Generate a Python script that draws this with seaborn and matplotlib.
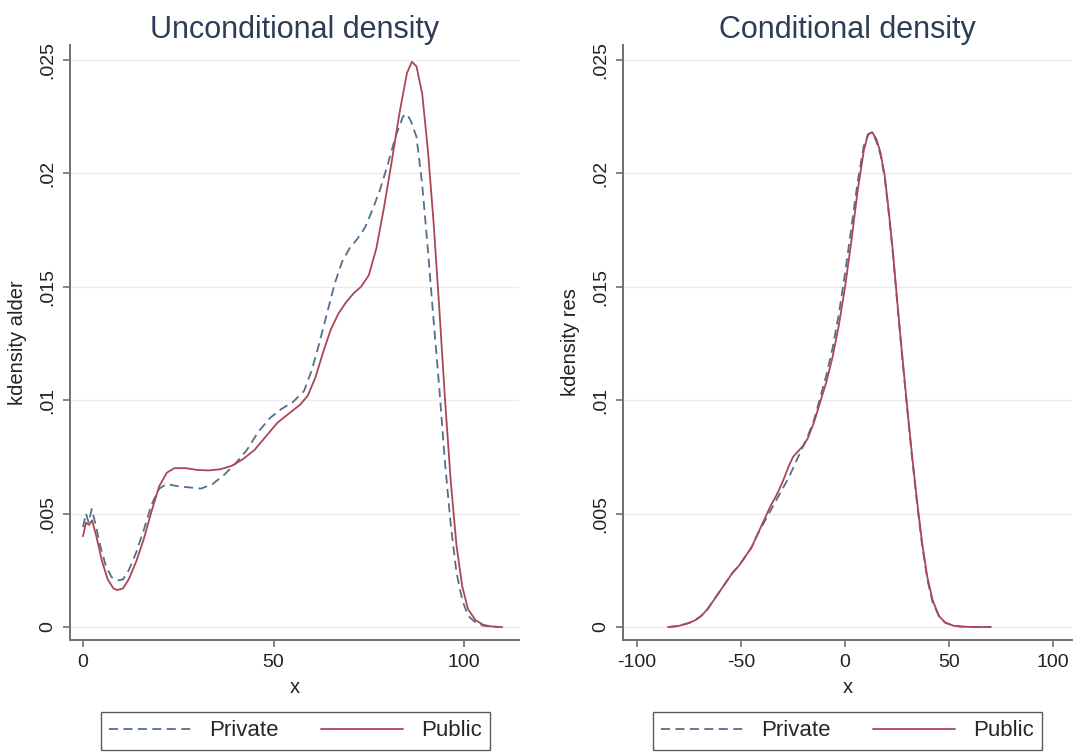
import numpy as np
import pandas as pd
import matplotlib
matplotlib.use("Agg")
import matplotlib.pyplot as plt
from matplotlib.lines import Line2D
import seaborn as sns

# ---------------- data ----------------
uncond_private_x = [0, 0.8, 1.5, 2.3, 3.2, 4.5, 6, 7.5, 9, 10.5, 12, 14, 16, 18, 20, 22, 25, 28, 31,
                    34, 37, 40, 43, 46, 49, 52, 55, 58, 60, 62, 64, 66, 68, 70, 72, 74, 76, 78, 80,
                    82, 84, 85, 86, 87.5, 89, 90.5, 92, 93.5, 95, 96.5, 98, 99.5, 101, 103, 105, 107, 109]
uncond_private_y = [0.0044, 0.0050, 0.0046, 0.0052, 0.0046, 0.0036, 0.0027, 0.0022, 0.00205, 0.0021,
                    0.0025, 0.0033, 0.0043, 0.0054, 0.0061, 0.0063, 0.0062, 0.00615, 0.0061, 0.0063,
                    0.0067, 0.0072, 0.0078, 0.0086, 0.0092, 0.0096, 0.0099, 0.0104, 0.0113, 0.0125,
                    0.0138, 0.0151, 0.0161, 0.0167, 0.0171, 0.0176, 0.0184, 0.0193, 0.0204, 0.0216,
                    0.0225, 0.0226, 0.0223, 0.0216, 0.0195, 0.0166, 0.0135, 0.0105, 0.0072, 0.0045,
                    0.0024, 0.0012, 0.0005, 0.0002, 0.00006, 0.00002, 0.0]

uncond_public_x = [0, 0.8, 1.6, 2.4, 3.5, 5, 6.5, 8, 9, 10.5, 12, 14, 16, 18, 20, 22, 24, 27, 30, 33,
                   36, 39, 42, 45, 48, 51, 54, 57, 59, 61, 63, 65, 67, 69, 71, 73, 75, 77, 79, 81, 83,
                   85, 86.3, 87.5, 89, 90.5, 92, 93.5, 95, 96.5, 98, 99.5, 101, 103, 105, 107, 110]
uncond_public_y = [0.0040, 0.0046, 0.0045, 0.0047, 0.0040, 0.0029, 0.0021, 0.0017, 0.00163, 0.0017,
                   0.0021, 0.0029, 0.0039, 0.0051, 0.0062, 0.0068, 0.0070, 0.0070, 0.00692, 0.0069,
                   0.00695, 0.0071, 0.0074, 0.0078, 0.0084, 0.0090, 0.0094, 0.0098, 0.0102, 0.0110,
                   0.0121, 0.0131, 0.0138, 0.0143, 0.0147, 0.0150, 0.0155, 0.0167, 0.0185, 0.0205,
                   0.0226, 0.0244, 0.0249, 0.0247, 0.0235, 0.0210, 0.0178, 0.0140, 0.0100, 0.0064,
                   0.0036, 0.0018, 0.0008, 0.0003, 0.0001, 0.00003, 0.0]

cond_public_x = [-85, -80, -75, -72, -69, -66, -63, -60, -57, -54, -51, -48, -45, -42, -39, -36, -33,
                 -30, -27, -25, -23, -20, -18, -15, -12, -9, -6, -3, 0, 3, 6, 9, 11, 13, 15, 17, 19,
                 21, 23, 25, 27, 29.5, 32, 34.5, 37, 39.5, 42, 45, 48, 52, 56, 62, 70]
cond_public_y = [0.0, 0.00005, 0.00018, 0.0003, 0.0005, 0.0008, 0.0012, 0.0016, 0.0020, 0.0024,
                 0.0027, 0.0031, 0.0035, 0.0041, 0.0047, 0.0053, 0.0058, 0.0064, 0.0071, 0.0075,
                 0.0077, 0.0080, 0.0083, 0.0090, 0.0099, 0.0108, 0.0119, 0.0133, 0.0150, 0.0170,
                 0.0192, 0.0210, 0.0217, 0.0218, 0.0215, 0.0209, 0.0199, 0.0183, 0.0165, 0.0144,
                 0.0124, 0.0100, 0.0077, 0.0056, 0.0037, 0.0022, 0.0012, 0.0005, 0.0002, 0.00006,
                 0.00002, 0.0, 0.0]

cond_private_x = [-85, -80, -75, -72, -69, -66, -63, -60, -57, -54, -51, -48, -45, -42, -39, -36, -33,
                  -30, -27, -25, -23, -20, -18, -15, -12, -9, -6, -3, 0, 3, 6, 9, 11, 13, 15, 17, 19,
                  21, 23, 25, 27, 29.5, 32, 34.5, 37, 39.5, 42, 45, 48, 52, 56, 62, 70]
cond_private_y = [0.0, 0.00005, 0.00018, 0.0003, 0.0005, 0.0008, 0.0012, 0.0016, 0.0020, 0.0024,
                  0.0027, 0.0031, 0.0035, 0.0041, 0.0046, 0.0051, 0.0056, 0.0061, 0.0066, 0.0070,
                  0.0074, 0.0080, 0.0084, 0.0091, 0.0101, 0.0111, 0.0123, 0.0138, 0.0156, 0.0176,
                  0.0196, 0.0212, 0.0217, 0.0218, 0.0214, 0.0208, 0.0198, 0.0182, 0.0164, 0.0143,
                  0.0123, 0.0099, 0.0076, 0.0055, 0.0036, 0.0021, 0.0011, 0.0005, 0.0002, 0.00006,
                  0.00002, 0.0, 0.0]

groups = ["Private", "Public"]
titles = ["Unconditional density", "Conditional density"]
ylabels = ["kdensity alder", "kdensity res"]
xlabel = "x"
yticks = [0, 0.005, 0.01, 0.015, 0.02, 0.025]
ytick_labels = ["0", ".005", ".01", ".015", ".02", ".025"]
xticks_left = [0, 50, 100]
xticks_right = [-100, -50, 0, 50, 100]

# ---------------- style ----------------
sns.set_theme(style="white")
plt.rcParams["font.family"] = ["Liberation Sans", "DejaVu Sans"]

colors = {"Private": "#52708c", "Public": "#ab4655"}
dashes = {"Private": (5, 3), "Public": ""}
axis_col = "#707070"
title_col = "#2d3d56"

fig = plt.figure(figsize=(10.82, 7.52), dpi=100)
W, H = 1082, 752
ax1 = fig.add_axes([70 / W, 1 - 640 / H, 449 / W, 595 / H])
ax2 = fig.add_axes([623 / W, 1 - 640 / H, 449 / W, 595 / H])


def make_df(px, py, ux, uy):
    return pd.concat([
        pd.DataFrame({"x": px, "y": py, "group": "Private"}),
        pd.DataFrame({"x": ux, "y": uy, "group": "Public"}),
    ], ignore_index=True)


df1 = make_df(uncond_private_x, uncond_private_y, uncond_public_x, uncond_public_y)
df2 = make_df(cond_private_x, cond_private_y, cond_public_x, cond_public_y)

panels = [(ax1, df1, (-3.4, 114.4), xticks_left, 295.5),
          (ax2, df2, (-106.7, 109.0), xticks_right, 847.5)]

for i, (ax, df, xlim, xt, legx) in enumerate(panels):
    sns.lineplot(data=df, x="x", y="y", hue="group", style="group",
                 palette=colors, dashes=dashes, estimator=None, sort=False,
                 linewidth=1.3, legend=False, ax=ax, zorder=3)
    ax.set_xlim(*xlim)
    ax.set_ylim(-0.00057, 0.02564)
    ax.set_yticks(yticks)
    ax.set_yticklabels(ytick_labels, rotation=90, va="center", fontsize=14, color="#222222")
    ax.set_xticks(xt)
    ax.set_xticklabels([str(v) for v in xt], fontsize=14, color="#222222")
    for yv in yticks:
        ax.axhline(yv, color="#ececec", lw=1.0, zorder=1)
    for s in ["top", "right"]:
        ax.spines[s].set_visible(False)
    for s in ["left", "bottom"]:
        ax.spines[s].set_color(axis_col)
        ax.spines[s].set_linewidth(1.4)
    ax.tick_params(axis="both", which="major", direction="out", length=5, width=1.2,
                   color=axis_col, pad=5, left=True, bottom=True)
    ax.set_title(titles[i], fontsize=22, color=title_col, pad=5)
    ax.set_xlabel(xlabel, fontsize=14.5, color="#222222", labelpad=5)
    ax.set_ylabel(ylabels[i], fontsize=14.5, color="#222222", labelpad=9)
    ax.set_facecolor("white")

    handles = [Line2D([0], [0], color=colors["Private"], lw=1.3, dashes=(5, 3)),
               Line2D([0], [0], color=colors["Public"], lw=1.3)]
    leg = fig.legend(handles, groups, loc="upper center",
                     bbox_to_anchor=(legx / W, 1 - 712 / H), ncol=2, fontsize=16,
                     frameon=True, fancybox=False, handlelength=3.7, columnspacing=1.9,
                     handletextpad=0.8, borderpad=0.38, borderaxespad=0.0)
    leg.get_frame().set_edgecolor("#333333")
    leg.get_frame().set_linewidth(1.0)

fig.savefig("out.png", dpi=100, facecolor="white")
